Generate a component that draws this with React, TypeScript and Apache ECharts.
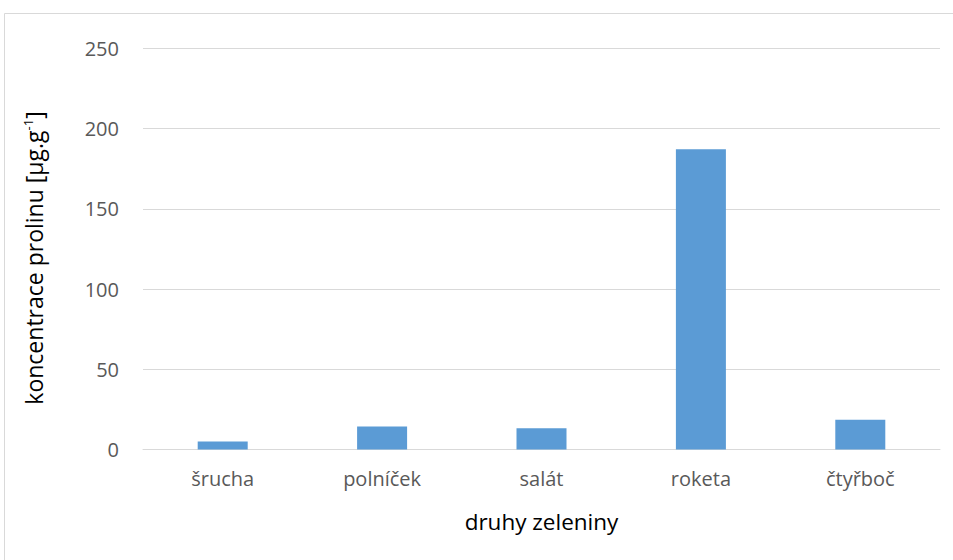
import React, { useEffect, useRef } from "react";
import * as echarts from "echarts";

const categories = ["šrucha", "polníček", "salát", "roketa", "čtyřboč"];
const prolineValues = [5.0, 14.3, 13.2, 187.2, 18.5];
const yTicks = [0, 50, 100, 150, 200, 250];

const FONT = "'Open Sans', 'Noto Sans', sans-serif";

export default function App() {
  const ref = useRef<HTMLDivElement>(null);

  useEffect(() => {
    if (!ref.current) return;
    const chart = echarts.init(ref.current, null, { renderer: "svg" });
    chart.setOption({
      animation: false,
      backgroundColor: "#ffffff",
      graphic: [
        {
          type: "rect",
          shape: { x: 4.5, y: 13.5, width: 1000, height: 600 },
          style: { fill: "none", stroke: "#d9d9d9", lineWidth: 1 },
          silent: true,
          z: -1,
        },
        {
          // rotated y-axis title with a superscript unit exponent
          type: "text",
          x: 34,
          y: 258,
          rotation: Math.PI / 2,
          style: {
            text: "{n|koncentrace prolinu [µg.g}{s|-1}{n|]}",
            align: "center",
            verticalAlign: "middle",
            fill: "#000000",
            rich: {
              n: { fontSize: 23, fontFamily: FONT, fill: "#000000" },
              s: { fontSize: 13, fontFamily: FONT, fill: "#000000", verticalAlign: "top", padding: [0, 0, 12, 0] },
            },
          },
          silent: true,
        },
      ],
      grid: { left: 143, right: 13, top: 48.5, bottom: 110.5, containLabel: false },
      xAxis: {
        type: "category",
        data: categories,
        axisLine: { lineStyle: { color: "#d9d9d9", width: 1 } },
        axisTick: { show: false },
        axisLabel: { color: "#595959", fontSize: 20, fontFamily: FONT, margin: 19 },
        name: "druhy zeleniny",
        nameLocation: "middle",
        nameGap: 60,
        nameTextStyle: { color: "#000000", fontSize: 22.5, fontFamily: FONT },
      },
      yAxis: {
        type: "value",
        min: yTicks[0],
        max: yTicks[yTicks.length - 1],
        interval: 50,
        axisLine: { show: false },
        axisTick: { show: false },
        splitLine: { lineStyle: { color: "#d9d9d9", width: 1 } },
        axisLabel: { color: "#595959", fontSize: 20, fontFamily: FONT, margin: 24 },
      },
      series: [
        {
          type: "bar",
          data: prolineValues,
          barWidth: 50,
          itemStyle: { color: "#5b9bd5" },
        },
      ],
    });
    return () => chart.dispose();
  }, []);

  return (
    <div
      ref={ref}
      style={{ position: "absolute", left: 0, top: 0, width: 953, height: 560 }}
    />
  );
}
